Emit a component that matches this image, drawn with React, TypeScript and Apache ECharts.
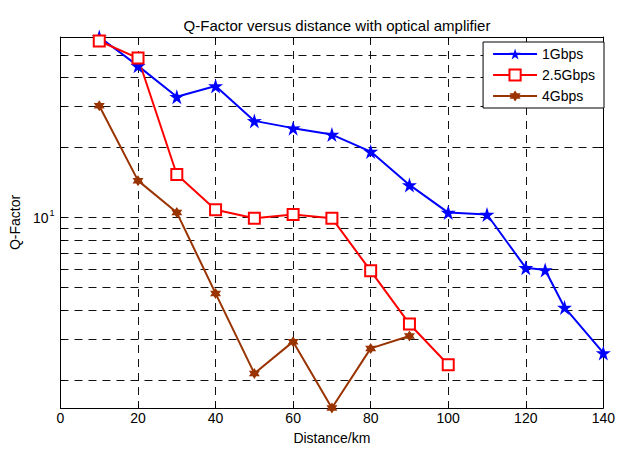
import React, { useEffect, useRef } from "react";
import * as echarts from "echarts";

const distance1 = [10, 20, 30, 40, 50, 60, 70, 80, 90, 100, 110, 120, 125, 130, 140];
const q1Gbps = [59.6, 44.8, 33.0, 36.7, 26.0, 24.2, 22.7, 19.2, 13.8, 10.5, 10.3, 6.08, 5.95, 4.11, 2.62];
const distance25 = [10, 20, 30, 40, 50, 60, 70, 80, 90, 100];
const q25Gbps = [57.3, 48.4, 15.3, 10.8, 9.93, 10.3, 9.93, 5.9, 3.49, 2.33];
const distance4 = [10, 20, 30, 40, 50, 60, 70, 80, 90];
const q4Gbps = [30.2, 14.4, 10.5, 4.72, 2.14, 2.93, 1.52, 2.74, 3.1];
const yGridValues = [2, 3, 4, 5, 6, 7, 8, 9, 10, 20, 30, 40, 50];
const yLabelValues = [10];
const yMin = 1.52;
const yMax = 59.6;

const STAR5 =
  "path://M50 0 L61.17 34.63 L97.55 34.55 L68.07 55.87 L79.39 90.45 L50 69 L20.61 90.45 L31.93 55.87 L2.45 34.55 L38.83 34.63 Z";
const STAR6 =
  "path://M50 0 L64.43 25 L93.3 25 L78.87 50 L93.3 75 L64.43 75 L50 100 L35.57 75 L6.7 75 L21.13 50 L6.7 25 L35.57 25 Z";

const FONT = "Liberation Sans, Arial, sans-serif";

function pairs(xs: number[], ys: number[]) {
  return xs.map((x, i) => [x, ys[i]]);
}

export default function App() {
  const ref = useRef<HTMLDivElement>(null);
  useEffect(() => {
    if (!ref.current) return;
    const chart = echarts.init(ref.current, null, { renderer: "svg" });
    const gridDash = { color: "#111", width: 1, type: [8, 6] as any };
    const yBase = {
      type: "log" as const,
      min: yMin,
      max: yMax,
      logBase: 10,
      axisLine: { show: true, onZero: false, lineStyle: { color: "#000", width: 1 } },
    };
    chart.setOption({
      animation: false,
      backgroundColor: "#fff",
      title: {
        text: "Q-Factor versus distance with optical amplifier",
        left: 332,
        top: 13,
        textAlign: "center",
        textStyle: { fontFamily: FONT, fontSize: 15, fontWeight: "normal", color: "#000" },
      },
      legend: {
        right: 14,
        top: 42,
        orient: "vertical",
        backgroundColor: "#fff",
        borderColor: "#000",
        borderWidth: 1,
        borderRadius: 0,
        padding: [5, 9, 5, 9],
        itemWidth: 44,
        itemHeight: 14,
        itemGap: 7,
        textStyle: { fontFamily: FONT, fontSize: 14, color: "#000" },
        data: ["1Gbps", "2.5Gbps", "4Gbps"],
      },
      grid: { left: 60, right: 12, top: 37, bottom: 37, containLabel: false },
      xAxis: [
        {
          type: "value",
          min: 0,
          max: 140,
          interval: 20,
          name: "Distance/km",
          nameLocation: "middle",
          nameGap: 23,
          nameTextStyle: { fontFamily: FONT, fontSize: 14, color: "#000" },
          axisLine: { show: true, onZero: false, lineStyle: { color: "#000", width: 1 } },
          axisTick: { show: true, inside: true, length: 4, lineStyle: { color: "#000" } },
          axisLabel: { fontFamily: FONT, fontSize: 14, color: "#000", margin: 3 },
          splitLine: { show: true, lineStyle: gridDash },
        },
        {
          type: "value",
          position: "top",
          min: 0,
          max: 140,
          interval: 20,
          axisLine: { show: true, onZero: false, lineStyle: { color: "#000", width: 1 } },
          axisTick: { show: true, inside: true, length: 4, lineStyle: { color: "#000" } },
          axisLabel: { show: false },
          splitLine: { show: false },
        },
      ],
      yAxis: [
        {
          ...yBase,
          position: "left",
          name: "Q-Factor",
          nameLocation: "middle",
          nameGap: 37,
          nameTextStyle: { fontFamily: FONT, fontSize: 14, color: "#000" },
          axisTick: {
            show: true,
            inside: true,
            length: 4,
            customValues: yGridValues,
            lineStyle: { color: "#000" },
          },
          axisLabel: {
            customValues: yLabelValues,
            fontFamily: FONT,
            fontSize: 14,
            color: "#000",
            margin: 6,
            formatter: (v: number) => (Math.abs(v - 10) < 0.01 ? "10{s|1}" : ""),
            rich: {
              s: { fontFamily: FONT, fontSize: 9, color: "#000", verticalAlign: "top", padding: [0, 0, 9, 1] },
            },
          },
          splitLine: { show: true, lineStyle: gridDash },
        },
        {
          ...yBase,
          position: "right",
          axisTick: {
            show: true,
            inside: true,
            length: 4,
            customValues: yGridValues,
            lineStyle: { color: "#000" },
          },
          axisLabel: { show: false, customValues: yLabelValues },
          splitLine: { show: false },
        },
      ],
      series: [
        {
          name: "1Gbps",
          type: "line",
          data: pairs(distance1, q1Gbps),
          color: "#0000ff",
          lineStyle: { width: 2, color: "#0000ff" },
          symbol: STAR5,
          symbolSize: 15,
          itemStyle: { color: "#0000ff", borderWidth: 0 },
          showAllSymbol: true,
          clip: true,
        },
        {
          name: "2.5Gbps",
          type: "line",
          data: pairs(distance25, q25Gbps),
          color: "#ff0000",
          lineStyle: { width: 2, color: "#ff0000" },
          symbol: "rect",
          symbolSize: 11,
          itemStyle: { color: "#fff", borderColor: "#ff0000", borderWidth: 2 },
          showAllSymbol: true,
          clip: false,
        },
        {
          name: "4Gbps",
          type: "line",
          data: pairs(distance4, q4Gbps),
          color: "#993300",
          lineStyle: { width: 2, color: "#993300" },
          symbol: STAR6,
          symbolSize: 11,
          itemStyle: { color: "#993300", borderWidth: 0 },
          showAllSymbol: true,
          clip: false,
        },
      ],
    });
    return () => chart.dispose();
  }, []);
  return <div ref={ref} style={{ width: 618, height: 450, position: "absolute", left: 0, top: 0 }} />;
}
